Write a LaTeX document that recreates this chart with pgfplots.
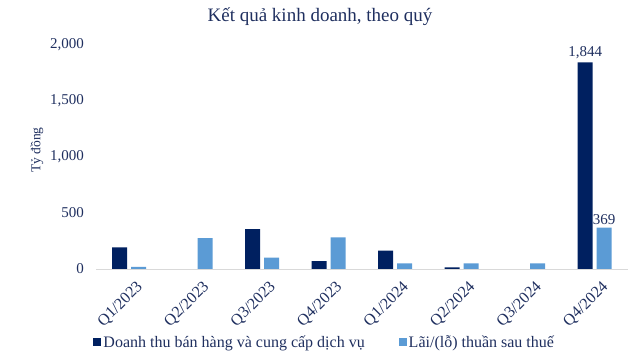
\documentclass[border=0pt]{standalone}
\usepackage{pgfplots}
\pgfplotsset{compat=1.18}
\usepackage{fontspec}
\setmainfont{Liberation Serif}
\definecolor{dark}{HTML}{002060}
\definecolor{light}{HTML}{5B9BD5}
\definecolor{textc}{HTML}{1F2F5F}
\definecolor{axisc}{HTML}{D9D9D9}
\begin{document}
\begin{tikzpicture}
\begin{axis}[
  at={(96bp,91bp)}, anchor=south west,
  scale only axis, width=532bp, height=224bp,
  xmin=-0.5, xmax=7.5, ymin=0, ymax=2000,
  ybar=4bp, bar width=15bp,
  axis lines*=left,
  x axis line style={draw=axisc, line width=0.8bp},
  y axis line style={draw=none},
  major tick length=0pt,
  xtick={0,...,7},
  xticklabels={Q1/2023,Q2/2023,Q3/2023,Q4/2023,Q1/2024,Q2/2024,Q3/2024,Q4/2024},
  ytick={0,500,1000,1500,2000},
  /pgf/number format/1000 sep={,},
  /pgf/number format/assume math mode=true,
  tick label style={font=\fontsize{15bp}{18bp}\selectfont, text=textc},
  yticklabel style={inner sep=0pt, xshift=-12bp},
  xticklabel style={font=\fontsize{16bp}{18bp}\selectfont, rotate=45, anchor=north east, inner sep=1bp, xshift=-2bp, yshift=-11bp},
  ylabel={Tỷ đồng},
  every axis y label/.style={at={(axis description cs:-0.111,0.531)}, rotate=90, anchor=center, font=\fontsize{13.5bp}{16bp}\selectfont, text=textc},
  legend columns=2,
  legend style={at={(axis description cs:0.43,-0.326)}, anchor=center, draw=none,
    font=\fontsize{16bp}{18bp}\selectfont, text=textc, inner sep=0pt,
    /tikz/every even column/.append style={column sep=32bp}},
  legend image code/.code={\fill[#1] (0bp,-4bp) rectangle (8bp,4bp);},
  nodes near coords, point meta=explicit symbolic,
  every node near coord/.append style={font=\fontsize{15bp}{18bp}\selectfont, text=textc, inner sep=3bp},
  clip=false,
]
\addplot[fill=dark, draw=none] coordinates {
  (0,194) [] (1,nan) [] (2,356) [] (3,70) [] (4,163) [] (5,15) [] (6,nan) [] (7,1844) [1,844]
};
\addplot[fill=light, draw=none] coordinates {
  (0,20) [] (1,276) [] (2,101) [] (3,282) [] (4,51) [] (5,50) [] (6,50) [] (7,369) [369]
};
\legend{Doanh thu bán hàng và cung cấp dịch vụ, Lãi/(lỗ) thuần sau thuế}
\end{axis}
\node[font=\fontsize{19bp}{22bp}\selectfont, text=textc] at (320bp,343bp) {Kết quả kinh doanh, theo quý};
\pgfresetboundingbox
\path[use as bounding box] (0,0) rectangle (640bp,360bp);
\end{tikzpicture}
\end{document}
